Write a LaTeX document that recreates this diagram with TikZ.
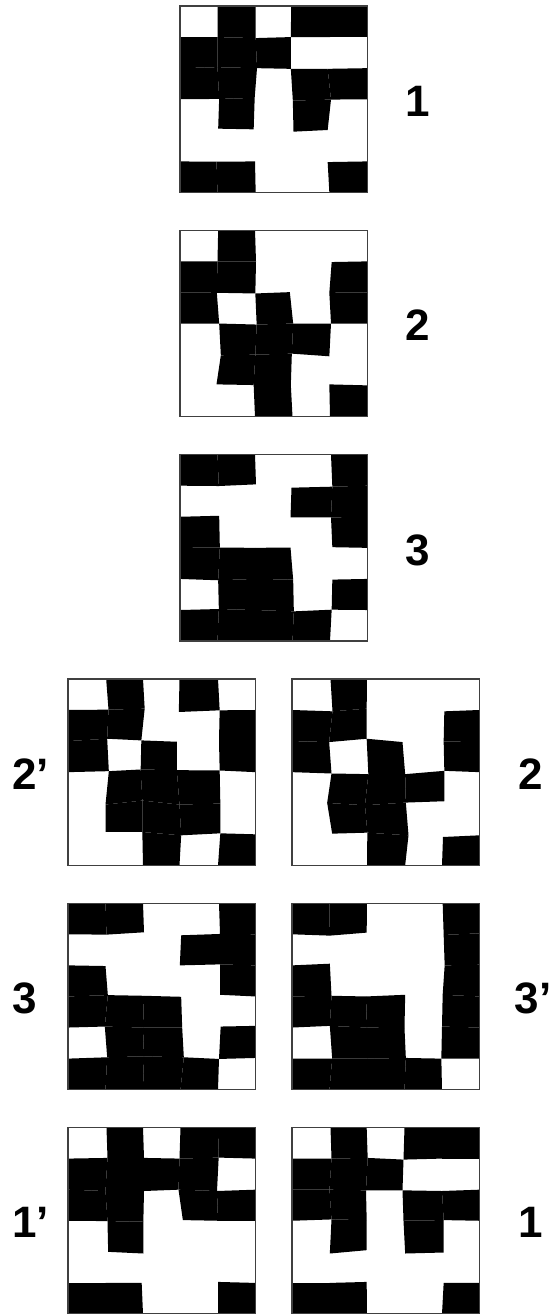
\documentclass[tikz,border=0pt]{standalone}
\usepackage{fontspec}
\setmainfont{Liberation Sans}
\tikzset{
  cellfill/.style={fill=black},
  gridframe/.style={draw=black!75,line width=1.3pt},
  lbl/.style={font=\fontsize{44}{50}\selectfont\bfseries,inner sep=0pt}
}
% #1 name, #2 x0, #3 y0, #4 vertex offsets i/j/dx/dy (1/3 px), #5 black cells c/r
\newcommand{\drawgrid}[5]{%
  \foreach \vi in {0,...,5}{\foreach \vj in {0,...,6}{%
    \coordinate (#1-\vi-\vj) at ({#2+\vi*37.5},{#3+\vj*31.083});}}
  \foreach \vi/\vj/\ox/\oy in {#4}{%
    \coordinate (#1-\vi-\vj) at ({#2+\vi*37.5+\ox/3},{#3+\vj*31.083+\oy/3});}
  \foreach \ci/\ri [evaluate=\ci as \cp using int(\ci-1), evaluate=\ri as \rp using int(\ri-1)] in {#5}{%
    \fill[cellfill] (#1-\cp-\rp) -- (#1-\ci-\rp) -- (#1-\ci-\ri) -- (#1-\cp-\ri) -- cycle;}
  \draw[gridframe] (#2,#3) rectangle ({#2+187.5},{#3+186.5});
}
\begin{document}
\begin{tikzpicture}[x=1pt,y=-1pt]
\useasboundingbox (0,0) rectangle (554,1314);
% grid 1 (top)
\drawgrid{ga}{180}{6}{3/0/-4/0, 3/1/-5/0, 3/2/-5/2, 4/2/-7/2, 4/3/3/1, 4/4/-7/-1, 3/3/1/4, 3/4/3/4, 2/2/6/0, 2/3/-1/-4, 1/3/5/-1, 1/4/2/-5, 2/4/-4/-3, 1/2/0/-3, 1/5/-3/1, 2/6/2/0, 4/5/-7/2, 4/6/-2/0, 2/1/2/3, 2/0/2/0}
  {2/1,4/1,5/1, 1/2,2/2,3/2, 1/3,2/3,4/3,5/3, 2/4,4/4, 1/6,2/6,5/6}
% grid 2
\drawgrid{gb}{180}{230.3}{1/0/2/0, 4/1/5/2, 4/2/-2/1, 1/3/5/0, 1/2/-2/1, 3/2/-8/-1, 3/3/2/0, 2/2/1/3, 2/3/5/3, 4/3/3/0, 4/4/-2/5, 1/4/10/2, 1/5/-3/-4, 3/4/-2/-3, 2/4/1/0, 3/5/-5/-2, 2/5/-4/-2, 4/5/-2/-4, 5/5/0/-1, 2/1/3/0}
  {2/1, 1/2,2/2,5/2, 1/3,3/3,5/3, 2/4,3/4,4/4, 2/5,3/5, 3/6,5/6}
% grid 3
\drawgrid{gc}{180}{454.6}{2/1/3/-4, 1/1/4/1, 4/0/3/0, 4/1/7/3, 3/1/-3/6, 3/2/-6/2, 4/2/3/2, 1/2/5/-3, 1/3/7/-1, 4/3/7/-2, 3/3/-6/-1, 3/4/2/2, 1/4/2/4, 1/5/4/-3, 3/5/4/4, 4/4/7/2, 4/5/5/-1}
  {1/1,2/1,5/1, 4/2,5/2, 1/3,5/3, 1/4,2/4,3/4, 2/5,3/5,5/5, 1/6,2/6,3/6,4/6}
% grid 2' (left, row 4)
\drawgrid{gd}{68}{678.9}{1/0/2/0, 1/1/9/-1, 2/1/5/-4, 3/0/-3/0, 3/1/-5/6, 4/1/5/1, 1/2/5/-7, 2/2/-5/-2, 4/2/3/0, 1/3/10/-3, 3/2/-11/2, 3/3/-11/-6, 2/3/-7/-8, 4/3/5/-5, 1/4/0/4, 2/4/-2/-8, 3/4/-3/4, 4/4/7/1, 1/5/0/-7, 2/5/-2/-7, 3/5/2/3, 4/5/7/-3, 3/6/-3/0}
  {2/1,4/1, 1/2,2/2,5/2, 1/3,3/3,5/3, 2/4,3/4,4/4, 2/5,3/5,4/5, 3/6,5/6}
% grid 2 (right, row 4)
\drawgrid{ge}{292}{678.9}{1/0/3/0, 1/1/9/4, 2/1/-1/-4, 1/2/-1/3, 2/2/-1/-7, 4/1/7/4, 4/2/5/1, 1/3/6/4, 3/2/-6/3, 3/3/2/6, 2/3/4/6, 4/3/7/-4, 1/4/-7/-1, 2/4/-6/6, 3/4/4/-2, 4/4/7/-6, 1/5/8/-2, 2/5/1/-5, 3/5/12/3, 3/6/2/0, 4/5/3/8, 5/5/0/3}
  {2/1, 1/2,2/2,5/2, 1/3,3/3,5/3, 2/4,3/4,4/4, 2/5,3/5, 3/6,5/6}
% grid 3 (left, row 5)
\drawgrid{gf}{68}{903.2}{1/1/3/1, 2/1/3/-6, 4/0/3/0, 4/1/6/-1, 3/1/2/3, 3/2/-2/0, 4/2/6/-3, 1/2/0/2, 1/3/7/-4, 4/3/6/-5, 2/3/3/-2, 3/3/2/1, 1/4/-2/-3, 3/4/5/0, 1/5/5/-4, 2/5/3/-7, 3/5/10/-4, 4/4/8/-3, 4/5/3/1, 5/4/0/-5, 5/5/0/-2}
  {1/1,2/1,5/1, 4/2,5/2, 1/3,5/3, 1/4,2/4,3/4, 2/5,3/5,5/5, 1/6,2/6,3/6,4/6}
% grid 3' (right, row 5)
\drawgrid{gg}{292}{903.2}{1/1/1/4, 2/1/-1/-5, 4/1/5/2, 4/2/8/0, 4/3/2/-5, 4/4/0/-3, 4/5/-2/0, 4/0/2/0, 5/1/0/-3, 5/2/0/-2, 1/2/1/-5, 1/3/6/-2, 2/3/-3/0, 3/3/2/-5, 3/4/0/2, 1/4/1/-5, 1/5/8/0, 3/5/4/-2}
  {1/1,2/1,5/1, 5/2, 1/3,5/3, 1/4,2/4,3/4,5/4, 2/5,3/5,5/5, 1/6,2/6,3/6,4/6}
% grid 1' (left, row 6)
\drawgrid{gh}{68}{1127.5}{1/0/3/0, 1/1/6/-2, 2/1/3/-2, 3/1/-3/0, 4/1/2/-3, 1/2/0/4, 2/2/3/4, 3/2/-6/0, 4/2/-3/4, 2/3/1/3, 1/3/6/1, 3/3/7/-2, 1/4/8/0, 2/4/1/5, 2/5/-4/0, 4/5/0/-3}
  {2/1,4/1,5/1, 1/2,2/2,3/2,4/2, 1/3,2/3,4/3,5/3, 2/4, 1/6,2/6,5/6}
% grid 1 (right, row 6)
\drawgrid{gi}{292}{1127.5}{1/0/3/0, 1/1/6/0, 2/1/2/-2, 2/0/-1/0, 3/1/-3/3, 3/2/-6/2, 2/2/-3/2, 2/3/-1/-2, 1/3/6/-4, 4/2/0/4, 3/3/-3/0, 4/3/5/-2, 1/4/1/5, 2/4/-1/-5, 3/4/2/5, 4/4/5/2, 2/5/-1/-3, 4/5/5/0}
  {2/1,4/1,5/1, 1/2,2/2,3/2, 1/3,2/3,4/3,5/3, 2/4,4/4, 1/6,2/6,5/6}
% labels
\node[lbl] (la) at (418,101) {1};
\node[lbl] (lb) at (418,325.5) {2};
\node[lbl] (lc) at (418,550) {3};
\node[lbl,anchor=west] (ld) at (12,774) {2’};
\node[lbl] (le) at (531,774) {2};
\node[lbl,anchor=west] (lf) at (12,998.4) {3};
\node[lbl] (lg) at (533,998.4) {3’};
\node[lbl,anchor=west] (lh) at (12,1222.7) {1’};
\node[lbl] (li) at (531,1222.7) {1};
\end{tikzpicture}
\end{document}
